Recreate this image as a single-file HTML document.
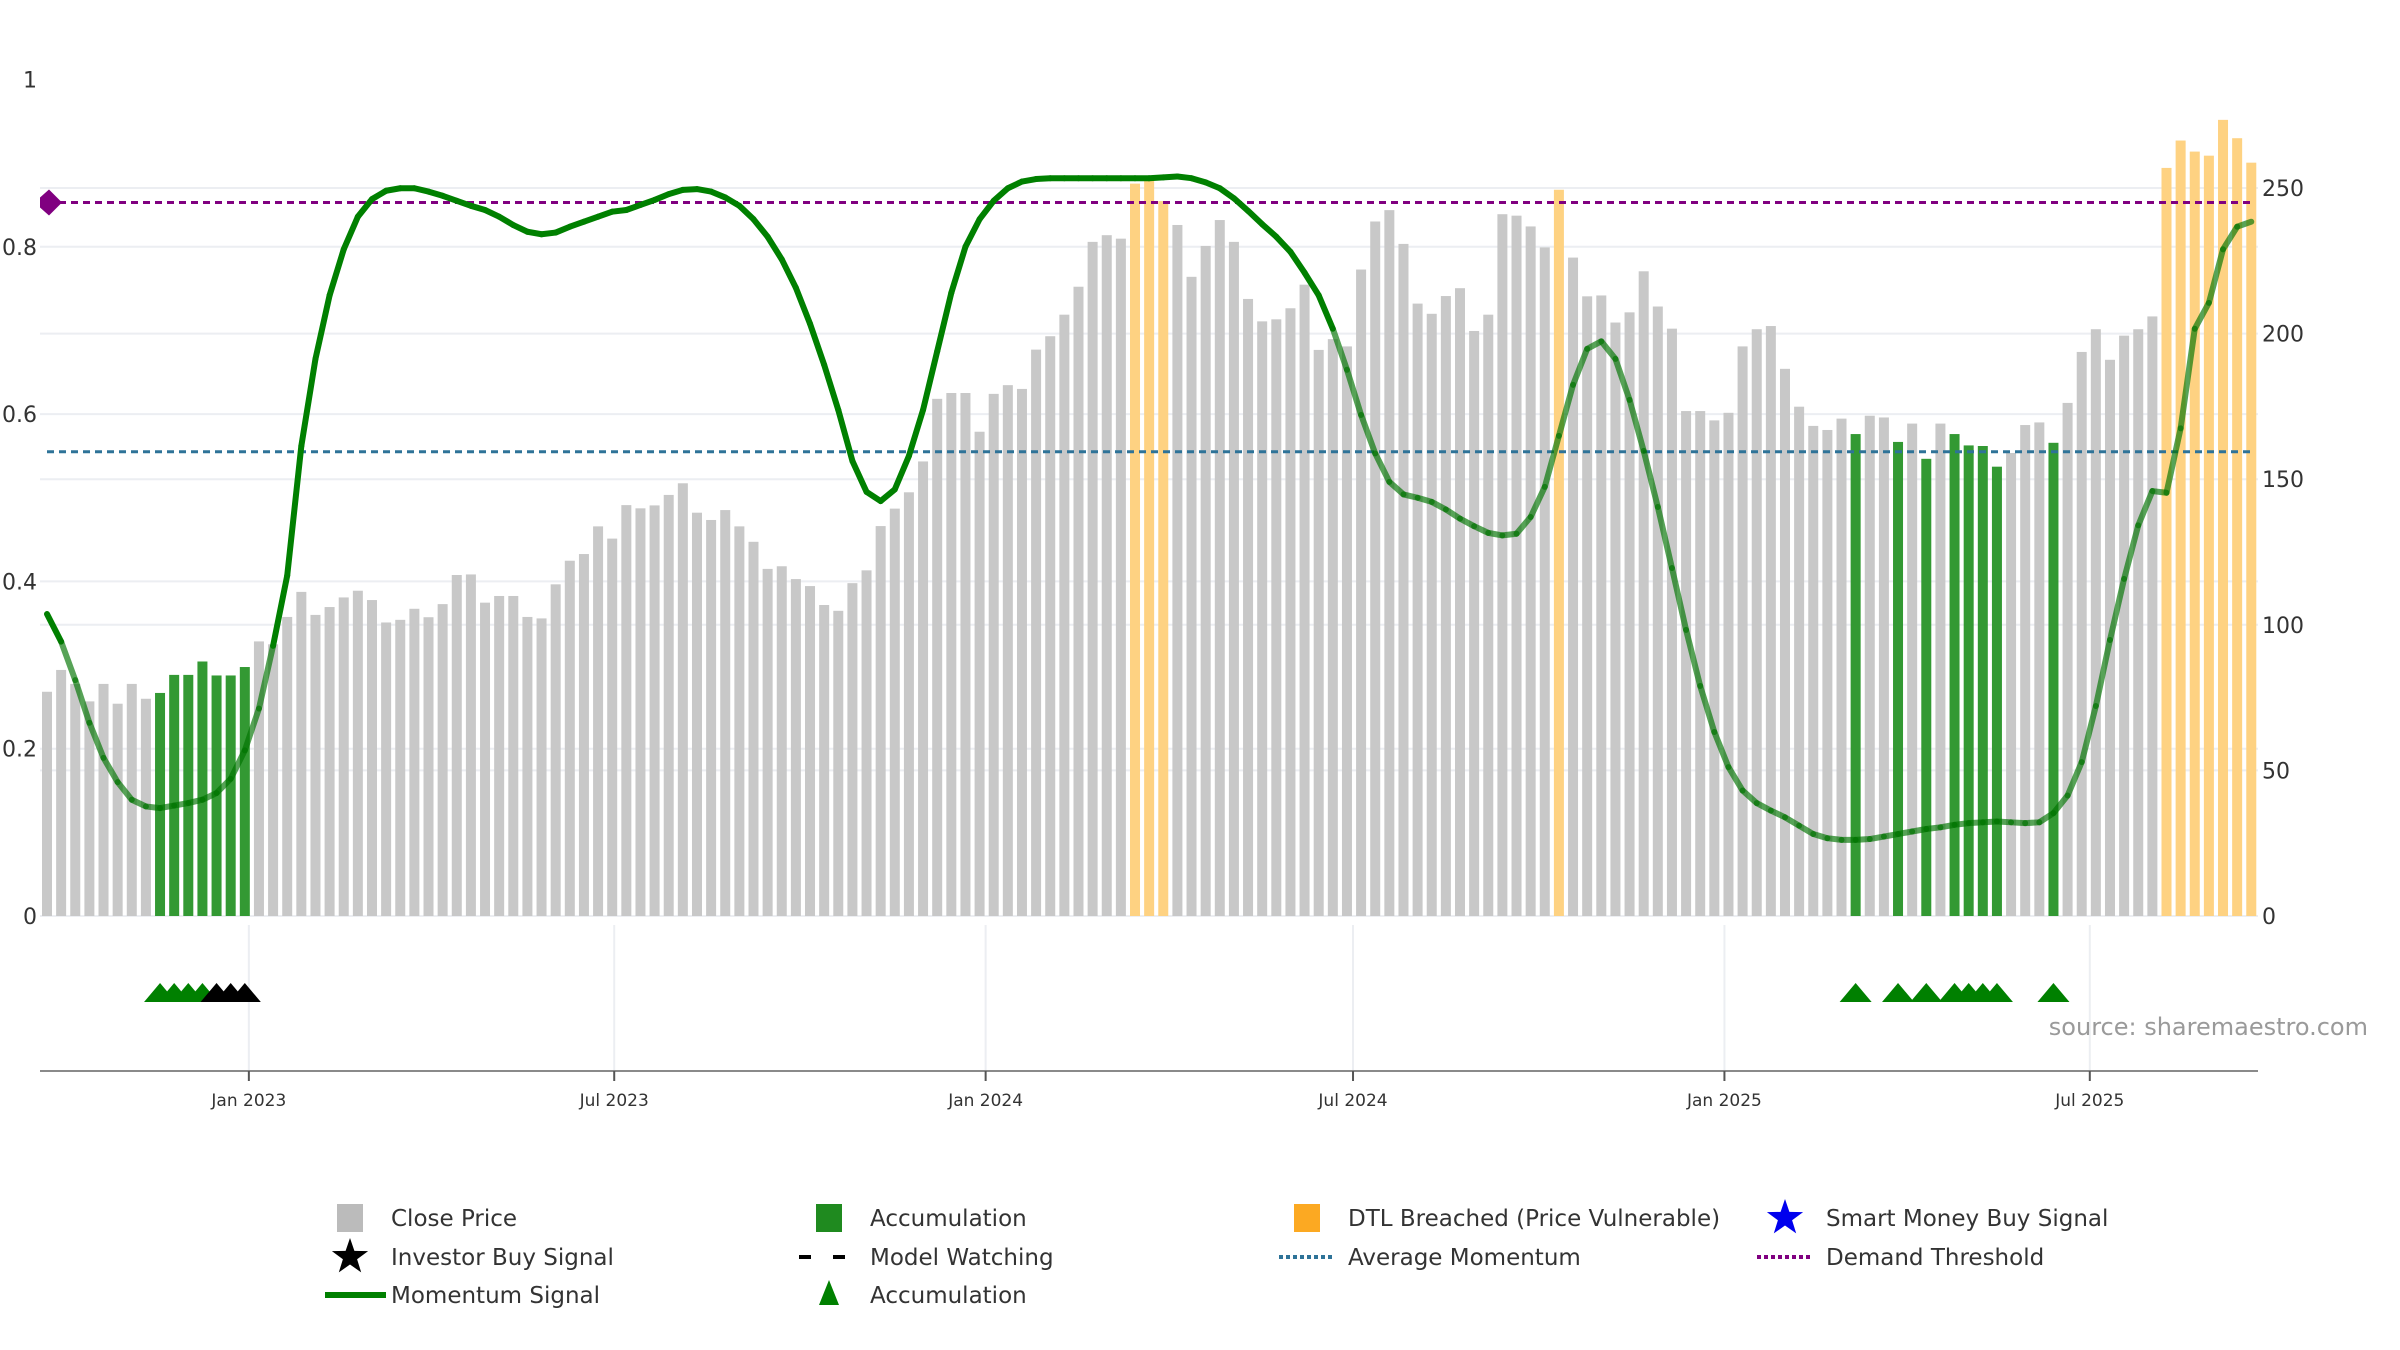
<!DOCTYPE html>
<html><head><meta charset="utf-8">
<style>
html,body{margin:0;padding:0;background:#fff;}
svg{display:block;font-family:"DejaVu Sans","Liberation Sans",sans-serif;}
</style></head>
<body>
<svg id="chart" width="2400" height="1350" viewBox="0 0 2400 1350" xmlns="http://www.w3.org/2000/svg">
<g id="grid"></g>
<g id="bars"></g>
<g id="refs"></g>
<g id="line"></g>
<g id="markers"></g>
<g id="axes"></g>
<text x="2368" y="1035" text-anchor="end" font-size="24" fill="#9a9a9a">source: sharemaestro.com</text>
<g id="legend"></g>
</svg>
<script>
// ---- data ----
const startDate = "2022-09-23";
const closePrice = [77,84.5,79.7,73.7,79.7,72.9,79.7,74.6,76.6,82.8,82.8,87.4,82.6,82.6,85.5,94.3,93.3,102.7,111.3,103.4,
106.1,109.4,111.7,108.5,100.8,101.7,105.5,102.6,107.1,117.1,117.3,107.6,109.9,109.9,102.7,102.2,113.9,122,124.3,133.8,
129.6,141.1,140,141,144.6,148.6,138.5,136,139.4,133.8,128.5,119.2,120.1,115.7,113.3,106.8,104.8,114.3,118.7,133.9,
139.9,145.5,156.1,177.6,179.6,179.6,166.3,179.3,182.3,181,194.5,199.1,206.5,216.1,231.5,233.8,232.6,251.5,252.9,245.5,
237.3,219.5,230.1,239,231.5,211.9,204.2,204.9,208.7,216.8,194.4,198.1,195.6,222,238.5,242.4,230.8,210.3,206.8,212.9,
215.6,200.9,206.5,241,240.5,236.8,229.6,249.4,226.1,212.8,213.1,203.8,207.3,221.4,209.3,201.7,173.4,173.4,170.2,172.8,
195.6,201.5,202.6,187.9,174.9,168.3,166.9,170.8,165.5,171.8,171.2,162.8,169.1,157,169.1,165.5,161.6,161.4,154.3,159,
168.6,169.5,162.5,176.2,193.7,201.5,191,199.3,201.5,205.9,256.9,266.3,262.5,261.1,273.4,267.1,258.7];
const momentum = [0.361,0.328,0.282,0.231,0.189,0.160,0.139,0.131,0.129,0.132,0.135,0.139,0.147,0.164,0.198,0.248,0.323,0.407,0.562,0.666,
0.742,0.797,0.836,0.857,0.867,0.870,0.870,0.866,0.861,0.855,0.849,0.844,0.836,0.826,0.818,0.815,0.817,0.824,0.830,0.836,
0.842,0.844,0.850,0.856,0.863,0.868,0.869,0.866,0.859,0.849,0.833,0.812,0.785,0.751,0.708,0.659,0.605,0.544,0.507,0.496,
0.510,0.550,0.605,0.675,0.745,0.800,0.833,0.855,0.870,0.878,0.881,0.882,0.882,0.882,0.882,0.882,0.882,0.882,0.882,0.883,
0.884,0.882,0.877,0.870,0.858,0.843,0.827,0.812,0.794,0.769,0.742,0.702,0.653,0.599,0.553,0.519,0.504,0.500,0.495,0.486,
0.475,0.466,0.458,0.455,0.457,0.477,0.513,0.574,0.635,0.678,0.687,0.666,0.617,0.556,0.489,0.416,0.342,0.275,0.220,0.178,
0.150,0.135,0.126,0.118,0.108,0.098,0.093,0.091,0.091,0.092,0.095,0.098,0.101,0.104,0.106,0.109,0.111,0.112,0.113,0.112,
0.111,0.112,0.123,0.144,0.184,0.251,0.330,0.403,0.467,0.508,0.506,0.583,0.702,0.733,0.797,0.824,0.830];
const accumulationWeeks = [9,10,11,12,13,14,15,129,132,134,136,137,138,139,143];
const dtlWeeks = [78,79,80,108,151,152,153,154,155,156,157];
const accTriangleWeeks = [9,10,11,12,129,132,134,136,137,138,139,143];
const investorBuyWeeks = [13,14,15];
const fadedRanges = [[3,17],[93,157]];
const avgMomentum = 0.555;
const demandThreshold = 0.853;
const leftTicks = [0,0.2,0.4,0.6,0.8,1];
const leftTickLabels = ["0","0.2","0.4","0.6","0.8","1"];
const rightTicks = [0,50,100,150,200,250];
const tickDates = ["2023-01-01","2023-07-01","2024-01-01","2024-07-01","2025-01-01","2025-07-01"];
const tickLabels = ["Jan 2023","Jul 2023","Jan 2024","Jul 2024","Jan 2025","Jul 2025"];

// ---- scales ----
const NS="http://www.w3.org/2000/svg";
const X0=47, PITCH=14.13, Y0=916, LEFT_PX=836.5, RIGHT_PX=2.912;
const PLOT_L=40, PLOT_R=2258;
const t0=Date.parse(startDate+"T00:00:00Z");
function xIdx(i){return X0+i*PITCH;}
function xDate(s){return X0+(Date.parse(s+"T00:00:00Z")-t0)/(7*864e5)*PITCH;}
function yL(v){return Y0-v*LEFT_PX;}
function yR(v){return Y0-v*RIGHT_PX;}
function mk(tag,attrs,parent){const e=document.createElementNS(NS,tag);for(const k in attrs)e.setAttribute(k,attrs[k]);parent.appendChild(e);return e;}

const gGrid=document.getElementById('grid'),gBars=document.getElementById('bars'),gRefs=document.getElementById('refs'),
gLine=document.getElementById('line'),gMk=document.getElementById('markers'),gAx=document.getElementById('axes'),gLeg=document.getElementById('legend');

// grid
leftTicks.forEach(v=>{if(v>=1)return;const l=mk('line',{x1:PLOT_L,x2:PLOT_R,y1:yL(v),y2:yL(v),stroke:'#eceef2','stroke-width':2},gGrid);

});
rightTicks.forEach(v=>{const l=mk('line',{x1:PLOT_L,x2:PLOT_R,y1:yR(v),y2:yR(v),stroke:'#eceef2','stroke-width':2},gGrid);

});
tickDates.forEach(d=>{const x=xDate(d);const l=mk('line',{x1:x,x2:x,y1:925,y2:1070,stroke:'#eceef2','stroke-width':2},gGrid);

});

// bars
closePrice.forEach((v,i)=>{const w=i+1;let c='#c8c8c8',nm='close-price-bar';
 if(accumulationWeeks.includes(w)){c='#339933';nm='accumulation-bar';}
 if(dtlWeeks.includes(w)){c='#fed282';nm='dtl-breached-bar';}
 const r=mk('rect',{x:xIdx(i)-5,y:yR(v),width:10,height:Y0-yR(v),fill:c},gBars);
 
 });

// reference lines
const am=mk('line',{x1:47,x2:2251,y1:yL(avgMomentum),y2:yL(avgMomentum),stroke:'#2e7398','stroke-width':3,'stroke-dasharray':'7 5'},gRefs);


const dt=mk('line',{x1:47,x2:2251,y1:yL(demandThreshold),y2:yL(demandThreshold),stroke:'#800080','stroke-width':3,'stroke-dasharray':'7 5'},gRefs);


const yd=yL(demandThreshold);
const dm=mk('polygon',{points:`40,${yd-5} 49,${yd-13} 62,${yd} 49,${yd+13} 40,${yd+5}`,fill:'#800080'},gRefs);



// momentum line segments
function faded(w){return fadedRanges.some(r=>w>=r[0]&&w<=r[1]);}
for(let i=0;i<momentum.length-1;i++){
 const f=faded(i+2);
 const s=mk('line',{x1:xIdx(i),y1:yL(momentum[i]),x2:xIdx(i+1),y2:yL(momentum[i+1]),stroke:f?'rgba(0,115,0,0.66)':'#008000','stroke-width':6,'stroke-linecap':'round'},gLine);
 
 
}

// triangle markers
function tri(w,color,nm){const x=xIdx(w-1),y=993;
 const p=mk('polygon',{points:`${x-16},${y+9} ${x},${y-10} ${x+16},${y+9}`,fill:color},gMk);
 
 }
accTriangleWeeks.forEach(w=>tri(w,'#008000','accumulation-marker'));
investorBuyWeeks.forEach(w=>tri(w,'#000000','investor-buy-marker'));

// axes
const ax=mk('line',{x1:PLOT_L,x2:PLOT_R,y1:1071,y2:1071,stroke:'#8a8a8a','stroke-width':2},gAx);


tickDates.forEach((d,k)=>{const x=xDate(d);
 const t=mk('line',{x1:x,x2:x,y1:1071,y2:1081,stroke:'#555','stroke-width':2},gAx);
 
 
 const tx=mk('text',{x:x,y:1106,'text-anchor':'middle','font-size':17,fill:'#333'},gAx);tx.textContent=tickLabels[k];
 
 });
leftTicks.forEach((v,k)=>{const t=mk('text',{x:37,y:yL(v)+8,'text-anchor':'end','font-size':22,fill:'#333'},gAx);t.textContent=leftTickLabels[k];
 
 });
rightTicks.forEach(v=>{const t=mk('text',{x:2262,y:yR(v)+8,'text-anchor':'start','font-size':22,fill:'#333'},gAx);t.textContent=String(v);
 
 });

// legend
const colsIcon=[350,829,1307,1785],colsText=[391,870,1348,1826],rowsY=[1218,1257,1295];
const legendItems=[
 [0,0,'Close Price','sq','#bbbbbb'],[1,0,'Accumulation','sq','#1f8a1f'],[2,0,'DTL Breached (Price Vulnerable)','sq','#fca922'],[3,0,'Smart Money Buy Signal','star','#0000ee'],
 [0,1,'Investor Buy Signal','star','#000'],[1,1,'Model Watching','dash','#000'],[2,1,'Average Momentum','dot','#2e7398'],[3,1,'Demand Threshold','dot','#800080'],
 [0,2,'Momentum Signal','line','#008000'],[1,2,'Accumulation','tri','#008000']];
function starPts(cx,cy,R,r){let p=[];for(let k=0;k<10;k++){const a=-Math.PI/2+k*Math.PI/5,rr=k%2?r:R;p.push((cx+rr*Math.cos(a)).toFixed(1)+','+(cy+rr*Math.sin(a)).toFixed(1));}return p.join(' ');}
legendItems.forEach(it=>{const [c,r,label,kind,col]=it;const cx=colsIcon[c],cy=rowsY[r];
 const g=mk('g',{},gLeg);
 
 
 if(kind==='sq')mk('rect',{x:cx-13,y:cy-14,width:26,height:28,fill:col},g);
 else if(kind==='star')mk('polygon',{points:starPts(cx,cy,19,7.5),fill:col},g);
 else if(kind==='dash'){mk('line',{x1:cx-30,x2:cx+28,y1:cy,y2:cy,stroke:col,'stroke-width':4,'stroke-dasharray':'12 22'},g);}
 else if(kind==='dot')mk('line',{x1:cx-28,x2:cx+28,y1:cy,y2:cy,stroke:col,'stroke-width':4,'stroke-dasharray':'4 3'},g);
 else if(kind==='line')mk('line',{x1:cx-25,x2:cx+36,y1:cy,y2:cy,stroke:col,'stroke-width':6},g);
 else if(kind==='tri')mk('polygon',{points:`${cx-10},${cy+10} ${cx},${cy-15} ${cx+10},${cy+10}`,fill:col},g);
 const t=mk('text',{x:colsText[c],y:cy+8,'font-size':23,fill:'#333'},g);t.textContent=label;});
</script>
</body></html>
